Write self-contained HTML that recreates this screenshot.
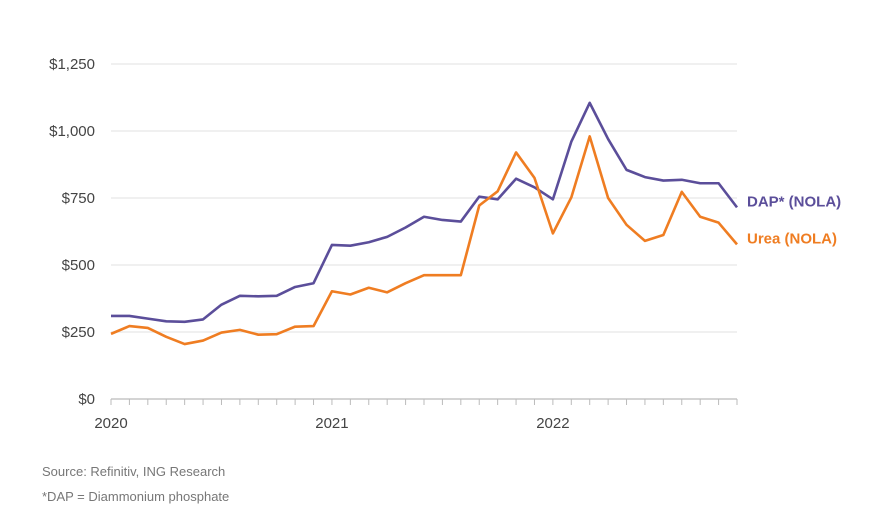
<!DOCTYPE html>
<html><head><meta charset="utf-8"><style>
body{margin:0;background:#fff;width:894px;height:511px;overflow:hidden;font-family:"Liberation Sans",sans-serif}
svg text{font-family:"Liberation Sans",sans-serif}
</style></head><body>
<svg id="chart" width="894" height="511" xmlns="http://www.w3.org/2000/svg"></svg>
<script>
const yTicks=[0,250,500,750,1000,1250];
const yTickLabels=["$0","$250","$500","$750","$1,000","$1,250"];
const yearLabels=["2020","2021","2022"];
const yearIndex=[0,12,24];
const dap=[310,310,300,290,288,297,352,385,383,385,418,432,575,572,585,605,640,680,668,662,755,745,822,790,745,960,1105,970,855,828,815,818,805,805,715];
const urea=[243,272,265,232,205,218,248,258,240,242,270,272,402,390,415,398,432,462,462,462,722,775,920,825,618,752,980,750,650,590,612,773,680,658,577];
const seriesNames=["DAP* (NOLA)","Urea (NOLA)"];
const svg=document.getElementById('chart');
const NS='http://www.w3.org/2000/svg';
const x0=111,x1=737,y0=399,yTop=64;
const n=dap.length;
const X=i=>x0+i*(x1-x0)/(n-1);
const Y=v=>y0-v*(y0-yTop)/1250;
function mk(t,a){const e=document.createElementNS(NS,t);for(const k in a)e.setAttribute(k,a[k]);svg.appendChild(e);return e;}
yTicks.forEach((v,i)=>{
  if(v>0){const g=mk('line',{x1:x0,x2:x1,y1:Y(v),y2:Y(v),stroke:'#e6e6e6','stroke-width':1.3});
  
  }
  const t=mk('text',{x:95,y:Y(v)+5,'text-anchor':'end','font-size':15,fill:'#444'});t.textContent=yTickLabels[i];
  
  
});
const ax=mk('line',{x1:x0,x2:x1,y1:y0,y2:y0,stroke:'#bbb','stroke-width':1.3});


for(let i=0;i<n;i++){const tk=mk('line',{x1:X(i),x2:X(i),y1:y0,y2:y0+6,stroke:'#bbb','stroke-width':1});

}
yearLabels.forEach((l,i)=>{const t=mk('text',{x:X(yearIndex[i]),y:428,'text-anchor':'middle','font-size':15,fill:'#444'});t.textContent=l;

});
function line(d,c,name){const p=mk('polyline',{points:d.map((v,i)=>X(i)+','+Y(v)).join(' '),fill:'none',stroke:c,'stroke-width':2.6,'stroke-linejoin':'round'});

}
line(dap,'#5b4e9a','dap-line');
line(urea,'#ef7d22','urea-line');
const l1=mk('text',{x:747,y:Y(dap[n-1])-1,'font-size':15,'font-weight':'bold',fill:'#5b4e9a'});l1.textContent=seriesNames[0];


const l2=mk('text',{x:747,y:Y(urea[n-1])-1,'font-size':15,'font-weight':'bold',fill:'#ef7d22'});l2.textContent=seriesNames[1];


const s1=mk('text',{x:42,y:476,'font-size':13,fill:'#777'});s1.textContent='Source: Refinitiv, ING Research';


const s2=mk('text',{x:42,y:501,'font-size':13,fill:'#777'});s2.textContent='*DAP = Diammonium phosphate';


</script>
</body></html>
